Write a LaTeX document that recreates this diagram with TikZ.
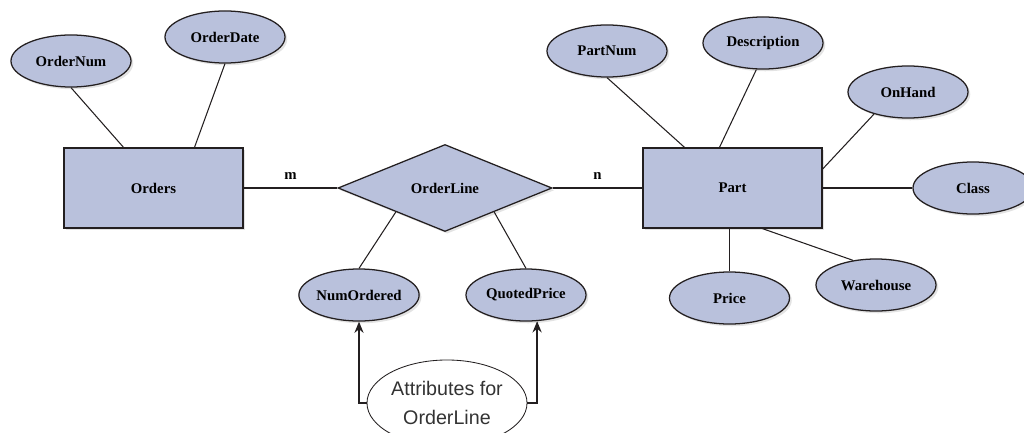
\documentclass[tikz,border=0pt]{standalone}
\usepackage{fontspec}
\setmainfont{Liberation Serif}
\newfontfamily\notefont{Liberation Sans}
\usetikzlibrary{positioning,arrows.meta,calc,shapes.geometric,shadows}
\definecolor{erfill}{RGB}{185,193,220}
\definecolor{erline}{RGB}{35,31,32}

\begin{document}
\begin{tikzpicture}[x=0.025cm, y=-0.025cm,
  sh/.style={drop shadow={shadow xshift=1.6pt, shadow yshift=-1.6pt, opacity=0.22}},
  ent/.style={draw=erline, line width=0.9pt, fill=erfill, sh, minimum width=4.475cm, minimum height=2cm,
    inner sep=0pt, font=\fontsize{10.5}{12}\selectfont\bfseries},
  rel/.style={ent, diamond, minimum width=5.35cm, minimum height=2.175cm},
  att/.style={ent, ellipse, minimum width=3cm, minimum height=1.3cm},
  e/.style={draw=erline, line width=0.75pt},
  a/.style={e, line width=1pt, -{Stealth[length=8pt, width=6.5pt]}}]
  \useasboundingbox (0,0) rectangle (1024,433);
  \node[ent] (orders) at (153.5,188) {Orders};
  \node[ent] (part)   at (732.5,188) {Part};
  \node[rel] (ol)     at (445,188)   {OrderLine};
  \node[att] (onum)   at (71,61)     {OrderNum};
  \node[att] (odate)  at (225,37)    {OrderDate};
  \node[att] (pnum)   at (607,51)    {PartNum};
  \node[att] (desc)   at (763,43)    {Description};
  \node[att] (onhand) at (908,92)    {OnHand};
  \node[att] (class)  at (973,188)   {Class};
  \node[att] (price)  at (729.5,298) {Price};
  \node[att] (wh)     at (876,285)   {Warehouse};
  \node[att] (nord)   at (359,295)   {NumOrdered};
  \node[att] (qprice) at (526,295)   {QuotedPrice};
  \node[draw=erline, line width=0.6pt, ellipse, fill=white, minimum width=4cm, minimum height=2.15cm, inner sep=0pt,
    align=center, text=black!80, font=\notefont\fontsize{14}{21}\selectfont] (attr) at (447,403) {Attributes for\\ OrderLine};
  \draw[e] (onum.south) -- ($(orders.north)+(-30,0)$);
  \draw[e] (odate.south) -- ($(orders.north)+(41,0)$);
  \draw[e] (orders.east) -- node[above=2pt, font=\fontsize{10.5}{12}\selectfont\bfseries] {m} (ol.west);
  \draw[e] (ol.east) -- node[above=2pt, font=\fontsize{10.5}{12}\selectfont\bfseries] {n} (part.west);
  \draw[e] (ol.206) -- (nord.north);
  \draw[e] (ol.-26) -- (qprice.north);
  \draw[e] (pnum.south) -- ($(part.north)+(-48,0)$);
  \draw[e] (desc.256) -- ($(part.north)+(-13,0)$);
  \draw[e] (onhand.213) -- ($(part.east)+(0,-19)$);
  \draw[e] (part.east) -- (class.west);
  \draw[e] (price.north) -- (price.north |- part.south);
  \draw[e] ($(part.south)+(30,0)$) -- (wh.133);
  \draw[a] (attr.west) -| (nord.south);
  \draw[a] (attr.east) -| (qprice.-67);
\end{tikzpicture}
\end{document}
